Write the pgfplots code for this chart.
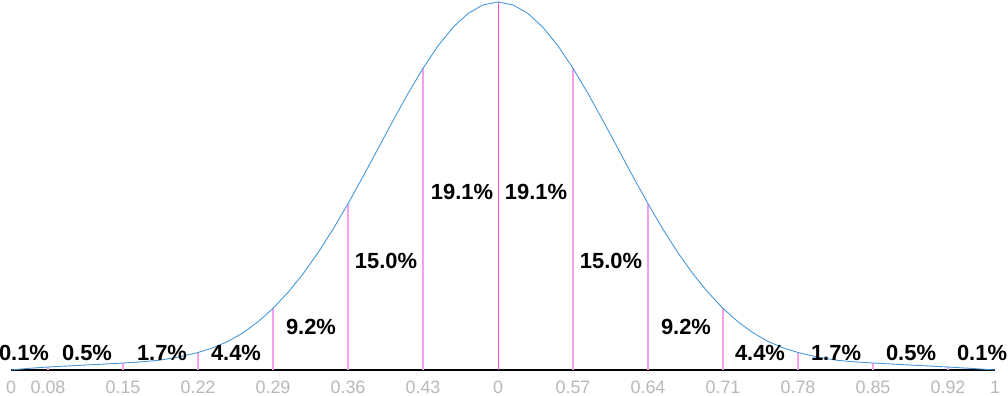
\documentclass[border=0pt]{standalone}
\usepackage{fontspec}
\setmainfont{Liberation Sans}
\usepackage{pgfplots}
\pgfplotsset{compat=1.18}
\definecolor{curve}{RGB}{72,152,218}
\definecolor{band}{RGB}{248,160,238}
\definecolor{mid}{RGB}{232,80,220}
\definecolor{tick}{RGB}{184,184,184}
\begin{document}
\begin{tikzpicture}
\begin{axis}[
  scale only axis,
  width=984bp, height=368bp,
  xmin=-487, xmax=497, ymin=0, ymax=368,
  axis x line*=bottom,
  axis y line=none,
  x axis line style={line width=1.6bp, black},
  major tick length=0pt,
  xtick={-487,-450,-375,-300,-225,-150,-75,0,75,150,225,300,375,450,497},
  xticklabels={0,0.08,0.15,0.22,0.29,0.36,0.43,0,0.57,0.64,0.71,0.78,0.85,0.92,1},
  xticklabel style={font=\fontsize{18}{21}\selectfont, text=tick, inner sep=0pt, anchor=north, yshift=-11bp},
  ytick=\empty,
  clip=false,
]
% band boundaries
\addplot[ycomb, no marks, band, line width=1.6bp] coordinates {
 (-450,3.0) (-375,7.0) (-300,17.5) (-225,61.6) (-150,166.3) (-75,301.7)
 (75,301.7) (150,166.3) (225,61.6) (300,17.5) (375,7.0) (450,3.0)
};
\addplot[ycomb, no marks, mid, line width=1bp] coordinates {(0,368)};
% density curve
\addplot[no marks, curve, line width=0.9bp] coordinates {
 (-487,0) (-470,1.6) (-450,3.0) (-425,4.3) (-400,5.6) (-375,7.0) (-360,7.9)
 (-340,9.6) (-320,12.8) (-300,17.5) (-285,22.2) (-270,28.6) (-255,37.2)
 (-240,48.2) (-225,61.6) (-210,77.6) (-195,96.1) (-180,117.2) (-165,140.7)
 (-150,166.3) (-135,193.4) (-120,221.3) (-105,249.3) (-90,276.5) (-75,301.7)
 (-60,324.1) (-45,342.6) (-30,356.5) (-15,365.1) (0,368)
 (15,365.1) (30,356.5) (45,342.6) (60,324.1) (75,301.7) (90,276.5)
 (105,249.3) (120,221.3) (135,193.4) (150,166.3) (165,140.7) (180,117.2)
 (195,96.1) (210,77.6) (225,61.6) (240,48.2) (255,37.2) (270,28.6)
 (285,22.2) (300,17.5) (320,12.8) (340,9.6) (360,7.9) (375,7.0)
 (400,5.6) (425,4.3) (450,3.0) (470,1.8) (485,0.8) (497,0)
};
\tikzset{pct/.style={font=\fontsize{22}{26}\selectfont\bfseries, inner sep=0pt, anchor=center}}
\node[pct] at (axis cs:-474,17) {0.1\%};
\node[pct] at (axis cs:-411,17) {0.5\%};
\node[pct] at (axis cs:-336,17) {1.7\%};
\node[pct] at (axis cs:-262,17) {4.4\%};
\node[pct] at (axis cs:-187,43.5) {9.2\%};
\node[pct] at (axis cs:-112,109) {15.0\%};
\node[pct] at (axis cs:-36,178) {19.1\%};
\node[pct] at (axis cs:38,178) {19.1\%};
\node[pct] at (axis cs:113,109) {15.0\%};
\node[pct] at (axis cs:188,43.5) {9.2\%};
\node[pct] at (axis cs:262,17) {4.4\%};
\node[pct] at (axis cs:338,17) {1.7\%};
\node[pct] at (axis cs:413,17) {0.5\%};
\node[pct] at (axis cs:484,17) {0.1\%};
\end{axis}
\pgfresetboundingbox
\path[use as bounding box] ([xshift=-11bp,yshift=-26bp]current axis.south west) rectangle ([xshift=13bp,yshift=2bp]current axis.north east);
\end{tikzpicture}
\end{document}
